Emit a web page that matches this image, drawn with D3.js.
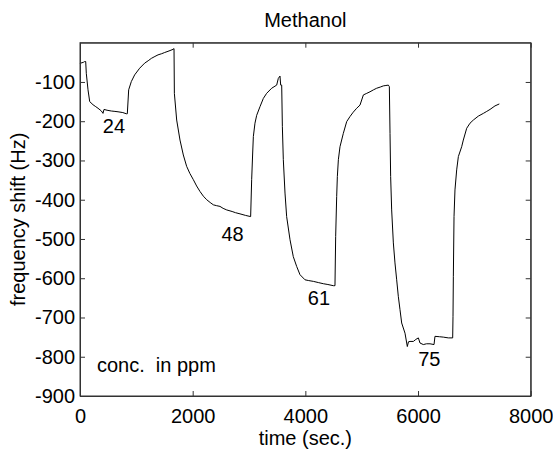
<!DOCTYPE html>
<html>
<head>
<meta charset="utf-8">
<script src="https://cdn.jsdelivr.net/npm/d3@7"></script>
<style>
  body { margin: 0; background: #fff; }
  text { font-family: "Liberation Sans", Arial, sans-serif; fill: #000; }
</style>
</head>
<body>
<div id="chart"></div>
<script>
// time in seconds
const timeSec = [0, 12, 60, 83, 101, 112, 142, 172, 231, 280, 320, 380, 408, 426, 480, 556, 620, 675, 760, 822, 840,
  864, 911, 970, 1059, 1148, 1210, 1266, 1330, 1385, 1450, 1503, 1580, 1651, 1669,
  1675, 1716, 1775, 1834, 1893, 1950, 2012, 2070, 2130, 2190, 2249, 2310, 2367, 2420, 2485, 2540, 2604, 2700, 2760, 2840, 2940, 3029,
  3047, 3065, 3077, 3106, 3136, 3195, 3254, 3313, 3402, 3491, 3520, 3550, 3562, 3580,
  3592, 3609, 3639, 3668, 3728, 3786, 3846, 3905, 3994, 4060, 4142, 4230, 4320, 4400, 4497, 4526,
  4538, 4556, 4568, 4586, 4615, 4674, 4734, 4793, 4850, 4911, 4970, 5030, 5090, 5148, 5210, 5266, 5330, 5384, 5430, 5473, 5491,
  5503, 5514, 5532, 5562, 5591, 5621, 5650, 5680, 5710, 5769, 5810, 5830, 5858, 5917, 5960, 6006, 6035, 6094, 6150, 6213, 6284,
  6301, 6380, 6449, 6538, 6615,
  6621, 6627, 6639, 6656, 6686, 6716, 6775, 6804, 6864, 6923, 6982, 7071, 7160, 7220, 7278, 7366, 7443];

// frequency shift in Hz
const freqShift = [-54, -52, -50, -48, -48, -78, -120, -150, -158, -163, -167, -174, -180, -170, -172, -174, -175, -176, -178, -181, -181,
  -120, -99, -82, -65, -52, -46, -40, -35, -31, -28, -25, -21, -17, -15,
  -129, -197, -248, -286, -315, -333, -349, -365, -379, -391, -400, -407, -413, -415, -417, -422, -426, -430, -433, -436, -440, -443,
  -349, -281, -239, -205, -185, -163, -142, -129, -116, -108, -91, -85, -108, -108,
  -214, -298, -383, -443, -502, -545, -570, -591, -604, -606, -608, -611, -614, -616, -619, -619,
  -494, -392, -341, -298, -265, -231, -201, -188, -177, -167, -159, -133, -129, -125, -120, -116, -113, -110, -109, -108, -112,
  -231, -341, -426, -510, -561, -604, -646, -680, -714, -740, -774, -762, -761, -761, -756, -752, -765, -769, -767, -767, -769,
  -748, -749, -750, -752, -752,
  -697, -595, -443, -375, -324, -290, -265, -248, -218, -205, -197, -187, -180, -175, -170, -161, -156];

const xTicks = [0, 2000, 4000, 6000, 8000];
const yTicks = [-900, -800, -700, -600, -500, -400, -300, -200, -100];

// concentration labels (ppm) placed in data coordinates
const concLabels = ["24", "48", "61", "75"];
const concLabelTime = [603, 2708, 4242, 6200];
const concLabelFreq = [-230, -506, -667, -824];

const chartTitle = "Methanol";
const xAxisLabel = "time (sec.)";
const yAxisLabel = "frequency shift (Hz)";
const noteText = "conc.  in ppm";

const W = 553, H = 450;
const margin = { top: 42.7, right: 22.3, bottom: 54, left: 80 };
const width = W - margin.left - margin.right;
const height = H - margin.top - margin.bottom;
const fontSize = "20px";

const svg = d3.select("#chart").append("svg")
  .attr("width", W)
  .attr("height", H);

const g = svg.append("g")
  .attr("transform", `translate(${margin.left},${margin.top})`);

const x = d3.scaleLinear().domain([0, 8000]).range([0, width]);
const y = d3.scaleLinear().domain([-900, 0]).range([height, 0]);

const data = timeSec.map((t, i) => ({ t: t, f: freqShift[i] }));

// the trace
g.append("path")
  .datum(data)
  .attr("fill", "none")
  .attr("stroke", "#000")
  .attr("stroke-width", 1)
  .attr("d", d3.line().x(d => x(d.t)).y(d => y(d.f)));

// axes with inward ticks (matlab look)
const tickLen = 5;
const fmt = d => d3.format("d")(d).replace("−", "-");

const xAxis = g.append("g")
  .attr("transform", `translate(0,${height})`)
  .call(d3.axisBottom(x).tickValues(xTicks).tickSizeInner(-tickLen).tickSizeOuter(0).tickPadding(12.5).tickFormat(fmt));
xAxis.selectAll("text").style("font-size", fontSize);

const yAxis = g.append("g")
  .call(d3.axisLeft(y).tickValues(yTicks).tickSizeInner(-tickLen).tickSizeOuter(0).tickPadding(5).tickFormat(fmt));
yAxis.selectAll("text").style("font-size", fontSize);

g.append("g")
  .call(d3.axisTop(x).tickValues(xTicks).tickSizeInner(-tickLen).tickSizeOuter(0).tickFormat(""));
g.append("g")
  .attr("transform", `translate(${width},0)`)
  .call(d3.axisRight(y).tickValues(yTicks).tickSizeInner(-tickLen).tickSizeOuter(0).tickFormat(""));

g.selectAll(".domain").attr("stroke", "#333");
g.selectAll(".tick line").attr("stroke", "#333");

// box
g.append("rect")
  .attr("width", width)
  .attr("height", height)
  .attr("fill", "none")
  .attr("stroke", "#333")
  .attr("stroke-width", 1);

// concentration labels
g.selectAll(".conc")
  .data(concLabels)
  .join("text")
  .attr("class", "conc")
  .attr("x", (d, i) => x(concLabelTime[i]))
  .attr("y", (d, i) => y(concLabelFreq[i]))
  .attr("text-anchor", "middle")
  .style("font-size", fontSize)
  .text(d => d);

g.append("text")
  .attr("x", x(300))
  .attr("y", y(-838))
  .style("font-size", fontSize)
  .style("white-space", "pre")
  .attr("xml:space", "preserve")
  .text(noteText);

// title and axis labels
svg.append("text")
  .attr("x", margin.left + width / 2)
  .attr("y", 27)
  .attr("text-anchor", "middle")
  .style("font-size", fontSize)
  .text(chartTitle);

svg.append("text")
  .attr("x", margin.left + width / 2)
  .attr("y", 445)
  .attr("text-anchor", "middle")
  .style("font-size", fontSize)
  .text(xAxisLabel);

svg.append("text")
  .attr("transform", "rotate(-90)")
  .attr("x", -(margin.top + height / 2))
  .attr("y", 25)
  .attr("text-anchor", "middle")
  .style("font-size", fontSize)
  .text(yAxisLabel);
</script>
</body>
</html>
